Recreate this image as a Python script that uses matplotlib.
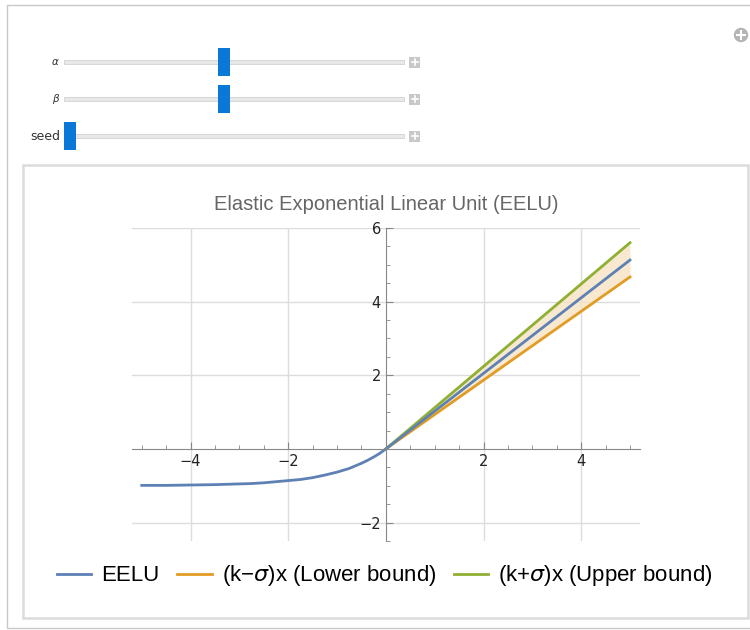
import matplotlib.pyplot as plt
from matplotlib.patches import Rectangle, Circle
from matplotlib.lines import Line2D

# values
x_neg = [-5, -4.5, -4, -3.5, -3, -2.75, -2.5, -2.25, -2, -1.75, -1.5, -1.25,
         -1, -0.875, -0.75, -0.625, -0.5, -0.375, -0.25, -0.125, 0]
eelu_neg = [-0.99, -0.99, -0.98, -0.97, -0.95, -0.94, -0.92, -0.89, -0.86, -0.83,
            -0.78, -0.71, -0.63, -0.58, -0.53, -0.46, -0.39, -0.31, -0.22, -0.12, 0]
x_pos = [0, 5]
eelu_pos = [0, 5.13]
lower = [0, 4.67]
upper = [0, 5.6]

labels = ["EELU", "(k\u2212$\\sigma$)x (Lower bound)", "(k+$\\sigma$)x (Upper bound)"]
colors = ["#5E81B5", "#E19C24", "#8FB032"]

slider_names = ["$\\alpha$", "$\\beta$", "seed"]
slider_pos = [0.47, 0.47, 0.0]  # fraction along the track

plt.rcParams["font.family"] = ["Liberation Sans", "DejaVu Sans"]
plt.rcParams["mathtext.fontset"] = "dejavusans"

fig = plt.figure(figsize=(7.5, 6.3), dpi=100)

# manipulate panel (pixel coordinates)
ui = fig.add_axes([0, 0, 1, 1], zorder=0)
ui.set_xlim(0, 750)
ui.set_ylim(630, 0)
ui.axis("off")
ui.add_patch(Rectangle((7, 5), 745, 623, fill=False, ec="#c8c8c8", lw=1))
ui.add_patch(Rectangle((23, 165), 725, 453, fill=False, ec="#dcdcdc", lw=1.8))
ui.add_patch(Circle((741, 35), 6.5, color="#b4b4b4"))
ui.plot([737, 745], [35, 35], color="white", lw=1.5)
ui.plot([741, 741], [31, 39], color="white", lw=1.5)

track_x0, track_x1 = 64, 404
for i, (name, pos) in enumerate(zip(slider_names, slider_pos)):
    yc = 62 + i * 37
    ui.text(60, yc, name, ha="right", va="center",
            fontsize=9 if name == "seed" else 7.5, color="#333333",
            family=["DejaVu Sans"])
    ui.add_patch(Rectangle((track_x0, yc - 2), track_x1 - track_x0, 4,
                           fc="#e8e8e8", ec="#d2d2d2", lw=0.6))
    tx = track_x0 + pos * (track_x1 - track_x0 - 12)
    ui.add_patch(Rectangle((tx, yc - 14), 12, 28, fc="#0A78D7", ec="none"))
    ui.add_patch(Rectangle((409, yc - 5.5), 11, 11, fc="#c8c8c8", ec="none"))
    ui.plot([411.5, 417.5], [yc, yc], color="white", lw=1.2)
    ui.plot([414.5, 414.5], [yc - 3, yc + 3], color="white", lw=1.2)

# plot
ax = fig.add_axes([0.176, 0.1413, 0.677, 0.4968], zorder=1)
ax.set_facecolor("none")
ax.fill_between(x_pos, lower, upper, color="#F6E3C4", alpha=0.8, lw=0)
ax.plot(x_neg, eelu_neg, color=colors[0], lw=2)
ax.plot(x_pos, lower, color=colors[1], lw=2)
ax.plot(x_pos, upper, color=colors[2], lw=2)
ax.plot(x_pos, eelu_pos, color=colors[0], lw=2)

ax.set_xlim(-5.2, 5.2)
ax.set_ylim(-2.5, 6)
ax.set_xticks([-4, -2, 2, 4])
ax.set_xticklabels(["\u22124", "\u22122", "2", "4"])
ax.set_yticks([-2, 2, 4, 6])
ax.set_yticklabels(["\u22122", "2", "4", "6"])
ax.set_xticks([v / 2 for v in range(-10, 11) if v % 4 != 0], minor=True)
ax.set_yticks([v / 2 for v in range(-5, 13) if v % 4 != 0], minor=True)
ax.grid(True, which="major", color="#dcdcdc", lw=1)
ax.set_axisbelow(True)

for side in ["top", "right"]:
    ax.spines[side].set_visible(False)
ax.spines["left"].set_position(("data", 0))
ax.spines["bottom"].set_position(("data", 0))
for side in ["left", "bottom"]:
    ax.spines[side].set_color("#888888")
ax.tick_params(which="both", direction="in", colors="#888888", labelcolor="#222222",
               labelsize=10.5)
ax.tick_params(which="major", length=5)
ax.tick_params(which="minor", length=3)
for lab in ax.get_xticklabels() + ax.get_yticklabels():
    lab.set_family(["DejaVu Sans"])
ax.tick_params(axis="x", pad=4)

ax.set_title("Elastic Exponential Linear Unit (EELU)", color="#666666", fontsize=14.5, pad=13)

handles = [Line2D([], [], color=c, lw=2) for c in colors]
fig.legend(handles, labels, loc="center", bbox_to_anchor=(0.513, 0.086), ncol=3,
           frameon=False, fontsize=16, handlelength=1.55, columnspacing=0.8,
           handletextpad=0.45)

fig.savefig("out.png", dpi=100)
